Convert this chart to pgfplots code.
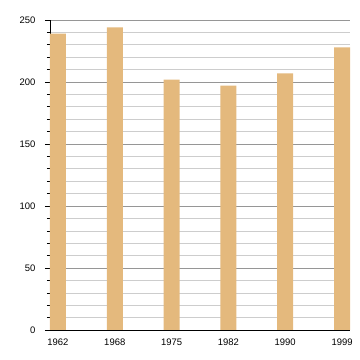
\documentclass[border=0pt]{standalone}
\usepackage{pgfplots}
\pgfplotsset{compat=1.18}
\usepackage{fontspec}
\setmainfont{Liberation Sans}
\definecolor{barc}{RGB}{228,185,125}
\definecolor{majg}{RGB}{150,150,150}
\definecolor{ming}{RGB}{205,205,205}
\begin{document}
\begin{tikzpicture}
\begin{axis}[
  scale only axis,
  width=300bp, height=310bp,
  xmin=-0.14, xmax=5.14,
  ymin=0, ymax=250,
  axis x line*=bottom,
  axis y line*=left,
  axis line style={-, black, line width=0.8pt},
  xtick={0,1,2,3,4,5},
  xticklabels={1962,1968,1975,1982,1990,1999},
  xtick style={draw=none},
  ytick={0,50,100,150,200,250},
  minor y tick num=4,
  tick align=outside,
  major tick length=5bp,
  minor tick length=3bp,
  ytick style={black, line width=0.6pt},
  ymajorgrids, yminorgrids,
  major grid style={majg, line width=0.6pt},
  minor grid style={ming, line width=0.6pt},
  tick label style={font=\fontsize{9.5}{11}\selectfont},
  yticklabel style={xshift=-6bp},
  /pgf/number format/assume math mode=true,
  ybar, bar width=16bp,
]
\addplot[fill=barc, draw=none] coordinates {(0,239) (1,244) (2,202) (3,197) (4,207) (5,228)};
\end{axis}
\path[use as bounding box] (-50bp,-30bp) rectangle (310bp,330bp);
\end{tikzpicture}
\end{document}
